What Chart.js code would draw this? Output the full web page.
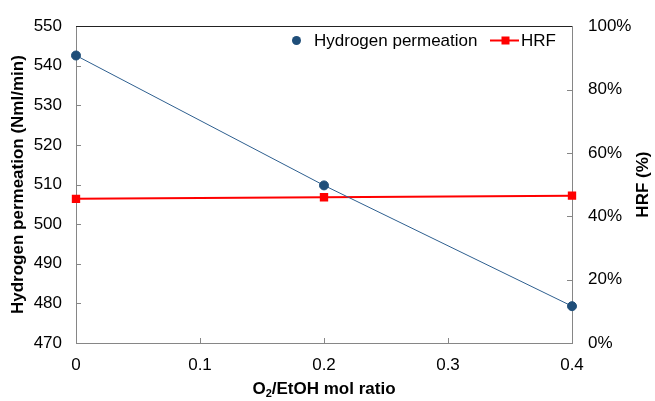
<!DOCTYPE html>
<html>
<head>
<meta charset="utf-8">
<script src="https://cdn.jsdelivr.net/npm/chart.js@4.4.1/dist/chart.umd.min.js"></script>
<style>
  html, body { margin: 0; padding: 0; background: #fff; }
  #wrap { width: 655px; height: 401px; }
</style>
</head>
<body>
<div id="wrap"><canvas id="chart" width="655" height="401"></canvas></div>
<script>
// === Data ===
const ratios = [0, 0.2, 0.4];
const permeation = [542.6, 509.8, 479.3];
const hrf = [45.5, 46.0, 46.5];

const FONT = "'Liberation Sans', Arial, sans-serif";
const AXIS_GRAY = "#868686";
const BLUE = "#1f4e79";
const RED = "#ff0000";

// inside ticks, frame, titles and legend
const decor = {
  id: "decor",
  afterDraw(chart) {
    const ctx = chart.ctx;
    const a = chart.chartArea;
    const { x, y, y2 } = chart.scales;
    ctx.save();
    ctx.lineWidth = 1;
    ctx.strokeStyle = AXIS_GRAY;
    ctx.beginPath();
    y.ticks.forEach(t => {
      const py = Math.round(y.getPixelForValue(t.value)) + 0.5;
      ctx.moveTo(a.left, py); ctx.lineTo(a.left + 5, py);
    });
    y2.ticks.forEach(t => {
      const py = Math.round(y2.getPixelForValue(t.value)) + 0.5;
      ctx.moveTo(a.right, py); ctx.lineTo(a.right - 5, py);
    });
    x.ticks.forEach(t => {
      const px = Math.round(x.getPixelForValue(t.value)) + 0.5;
      ctx.moveTo(px, a.bottom); ctx.lineTo(px, a.bottom - 5);
    });
    ctx.stroke();

    // top frame line
    ctx.strokeStyle = "#222";
    ctx.beginPath();
    ctx.moveTo(a.left, Math.round(a.top) + 0.5);
    ctx.lineTo(a.right, Math.round(a.top) + 0.5);
    ctx.stroke();

    // titles
    ctx.fillStyle = "#000";
    ctx.font = "bold 17px " + FONT;
    ctx.textAlign = "center";
    ctx.textBaseline = "middle";
    const midY = (a.top + a.bottom) / 2;
    ctx.save();
    ctx.translate(18, midY);
    ctx.rotate(-Math.PI / 2);
    ctx.fillText("Hydrogen permeation (Nml/min)", 0, 0);
    ctx.restore();
    ctx.save();
    ctx.translate(643, midY);
    ctx.rotate(-Math.PI / 2);
    ctx.fillText("HRF (%)", 0, 0);
    ctx.restore();

    // x title with subscript
    const partA = "O", sub = "2", partB = "/EtOH mol ratio";
    ctx.font = "bold 17px " + FONT;
    const wA = ctx.measureText(partA).width, wB = ctx.measureText(partB).width;
    ctx.font = "bold 11px " + FONT;
    const wS = ctx.measureText(sub).width;
    let sx = (a.left + a.right) / 2 - (wA + wS + wB) / 2;
    const ty = 389;
    ctx.textAlign = "left";
    ctx.font = "bold 17px " + FONT;
    ctx.fillText(partA, sx, ty);
    ctx.font = "bold 11px " + FONT;
    ctx.fillText(sub, sx + wA, ty + 5);
    ctx.font = "bold 17px " + FONT;
    ctx.fillText(partB, sx + wA + wS, ty);

    // legend
    ctx.font = "17px " + FONT;
    ctx.fillStyle = BLUE;
    ctx.beginPath();
    ctx.arc(296.5, 40.5, 4.5, 0, Math.PI * 2);
    ctx.fill();
    ctx.fillStyle = "#000";
    ctx.fillText("Hydrogen permeation", 314, 41);
    ctx.strokeStyle = RED;
    ctx.lineWidth = 2;
    ctx.beginPath();
    ctx.moveTo(490, 40.5); ctx.lineTo(519, 40.5);
    ctx.stroke();
    ctx.fillStyle = RED;
    ctx.fillRect(501.5, 36.5, 8, 8);
    ctx.fillStyle = "#000";
    ctx.fillText("HRF", 521, 41);
    ctx.restore();
  }
};

new Chart(document.getElementById("chart"), {
  type: "line",
  data: {
    datasets: [
      {
        label: "Hydrogen permeation",
        data: ratios.map((r, i) => ({ x: r, y: permeation[i] })),
        yAxisID: "y",
        borderColor: "#2e5f8f",
        borderWidth: 1,
        pointBackgroundColor: BLUE,
        pointBorderColor: BLUE,
        pointRadius: 4.5,
        pointStyle: "circle",
        tension: 0
      },
      {
        label: "HRF",
        data: ratios.map((r, i) => ({ x: r, y: hrf[i] })),
        yAxisID: "y2",
        borderColor: RED,
        borderWidth: 2,
        pointBackgroundColor: RED,
        pointBorderColor: RED,
        pointStyle: "rect",
        pointRadius: 4.5,
        tension: 0
      }
    ]
  },
  options: {
    responsive: false,
    animation: false,
    clip: false,
    layout: { padding: { top: 20, left: 0, right: 0, bottom: 0 } },
    plugins: { legend: { display: false }, tooltip: { enabled: false } },
    scales: {
      x: {
        type: "linear",
        min: 0, max: 0.4,
        afterFit: s => { s.height = 58; },
        border: { color: AXIS_GRAY, width: 1 },
        grid: { display: false, drawTicks: false },
        ticks: {
          stepSize: 0.1, padding: 12, color: "#000",
          font: { family: FONT, size: 17 },
          callback: v => String(+v.toFixed(1))
        }
      },
      y: {
        position: "left",
        min: 470, max: 550,
        afterFit: s => { s.width = 76; },
        border: { color: AXIS_GRAY, width: 1 },
        grid: { display: false, drawTicks: false },
        ticks: { stepSize: 10, padding: 14, color: "#000", font: { family: FONT, size: 17 } }
      },
      y2: {
        position: "right",
        min: 0, max: 100,
        afterFit: s => { s.width = 83; },
        border: { color: AXIS_GRAY, width: 1 },
        grid: { display: false, drawTicks: false },
        ticks: {
          stepSize: 20, padding: 16, color: "#000",
          font: { family: FONT, size: 17 },
          callback: v => v + "%"
        }
      }
    }
  },
  plugins: [decor]
});
</script>
</body>
</html>
